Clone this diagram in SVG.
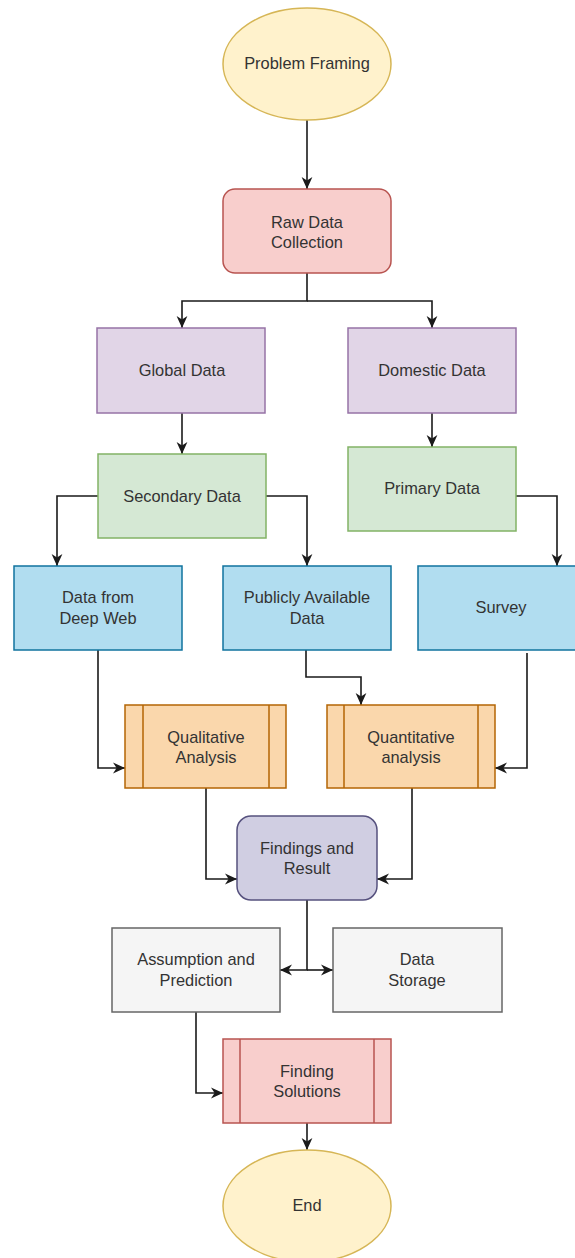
<svg xmlns="http://www.w3.org/2000/svg" width="575" height="1258" viewBox="0 0 575 1258">
<style>
  .t{font-family:"Liberation Sans",Arial,sans-serif;font-size:16.4px;fill:#333333;text-anchor:middle;dominant-baseline:central}
  .yel{fill:#fff2cc;stroke:#d6b656;stroke-width:1.5}
  .red{fill:#f8cecc;stroke:#b85450;stroke-width:1.5}
  .pur{fill:#e1d5e7;stroke:#9673a6;stroke-width:1.5}
  .grn{fill:#d5e8d4;stroke:#82b366;stroke-width:1.5}
  .blu{fill:#b1ddf0;stroke:#10739e;stroke-width:1.5}
  .org{fill:#fad7ac;stroke:#b46504;stroke-width:1.5}
  .lav{fill:#d0cee2;stroke:#56517e;stroke-width:1.5}
  .gry{fill:#f5f5f5;stroke:#666666;stroke-width:1.5}
  .ln{fill:none;stroke-width:1.5}
  .c{fill:none;stroke:#1a1a1a;stroke-width:1.6;marker-end:url(#arr)}
</style>
<defs>
  <marker id="arr" viewBox="0 0 10 10" refX="10" refY="5" markerWidth="12" markerHeight="12" markerUnits="userSpaceOnUse" orient="auto">
    <path d="M0,0.5 L10,5 L0,9.5 L3,5 Z" fill="#1a1a1a"/>
  </marker>
</defs>
<rect width="575" height="1258" fill="#ffffff"/>
<g id="connectors">
  <path class="c" d="M307,120 V189"/>
  <path class="c" d="M307,273 V301 H182 V328"/>
  <path class="c" d="M307,301 H432 V328"/>
  <path class="c" d="M182,413 V454"/>
  <path class="c" d="M432,413 V447"/>
  <path class="c" d="M98,496 H57 V566"/>
  <path class="c" d="M266,496 H307 V566"/>
  <path class="c" d="M516,496 H557 V566"/>
  <path class="c" d="M98,650 V768 H125"/>
  <path class="c" d="M306,650 V677 H361 V705"/>
  <path class="c" d="M527,653 V768 H495"/>
  <path class="c" d="M206,788 V879 H237"/>
  <path class="c" d="M412,788 V879 H377"/>
  <path class="c" d="M307,900 V970 H280"/>
  <path class="c" d="M307,970 H333"/>
  <path class="c" d="M196,1012 V1093 H223"/>
  <path class="c" d="M307,1123 V1150"/>
</g>
<g id="problem-framing">
  <ellipse class="yel" cx="307" cy="64" rx="84" ry="56"/>
  <text class="t" x="307" y="63">Problem Framing</text>
</g>
<g id="raw-data-collection">
  <rect class="red" x="223" y="189" width="168" height="84" rx="12"/>
  <text class="t" x="307" y="222">Raw Data</text>
  <text class="t" x="307" y="242">Collection</text>
</g>
<g id="global-data">
  <rect class="pur" x="97" y="328" width="168" height="85"/>
  <text class="t" x="182" y="370">Global Data</text>
</g>
<g id="domestic-data">
  <rect class="pur" x="348" y="328" width="168" height="85"/>
  <text class="t" x="432" y="370">Domestic Data</text>
</g>
<g id="secondary-data">
  <rect class="grn" x="98" y="454" width="168" height="84"/>
  <text class="t" x="182" y="496">Secondary Data</text>
</g>
<g id="primary-data">
  <rect class="grn" x="348" y="447" width="168" height="84"/>
  <text class="t" x="432" y="488">Primary Data</text>
</g>
<g id="deep-web">
  <rect class="blu" x="14" y="566" width="168" height="84"/>
  <text class="t" x="98" y="597">Data from</text>
  <text class="t" x="98" y="618">Deep Web</text>
</g>
<g id="publicly-available">
  <rect class="blu" x="223" y="566" width="168" height="84"/>
  <text class="t" x="307" y="597">Publicly Available</text>
  <text class="t" x="307" y="618">Data</text>
</g>
<g id="survey">
  <rect class="blu" x="418" y="566" width="168" height="84"/>
  <text class="t" x="501" y="607">Survey</text>
</g>
<g id="qualitative-analysis">
  <rect class="org" x="125" y="705" width="161" height="83"/>
  <path class="ln" d="M143,705 V788 M269,705 V788" style="stroke:#b46504"/>
  <text class="t" x="206" y="737">Qualitative</text>
  <text class="t" x="206" y="757">Analysis</text>
</g>
<g id="quantitative-analysis">
  <rect class="org" x="327" y="705" width="168" height="83"/>
  <path class="ln" d="M344,705 V788 M478,705 V788" style="stroke:#b46504"/>
  <text class="t" x="411" y="737">Quantitative</text>
  <text class="t" x="411" y="757">analysis</text>
</g>
<g id="findings-and-result">
  <rect class="lav" x="237" y="816" width="140" height="84" rx="14"/>
  <text class="t" x="307" y="848">Findings and</text>
  <text class="t" x="307" y="868">Result</text>
</g>
<g id="assumption-and-prediction">
  <rect class="gry" x="112" y="928" width="168" height="84"/>
  <text class="t" x="196" y="959">Assumption and</text>
  <text class="t" x="196" y="980">Prediction</text>
</g>
<g id="data-storage">
  <rect class="gry" x="333" y="928" width="169" height="84"/>
  <text class="t" x="417" y="959">Data</text>
  <text class="t" x="417" y="980">Storage</text>
</g>
<g id="finding-solutions">
  <rect class="red" x="223" y="1039" width="168" height="84"/>
  <path class="ln" d="M240,1039 V1123 M374,1039 V1123" style="stroke:#b85450"/>
  <text class="t" x="307" y="1071">Finding</text>
  <text class="t" x="307" y="1091">Solutions</text>
</g>
<g id="end">
  <ellipse class="yel" cx="307" cy="1206" rx="84" ry="56"/>
  <text class="t" x="307" y="1205">End</text>
</g>
</svg>
